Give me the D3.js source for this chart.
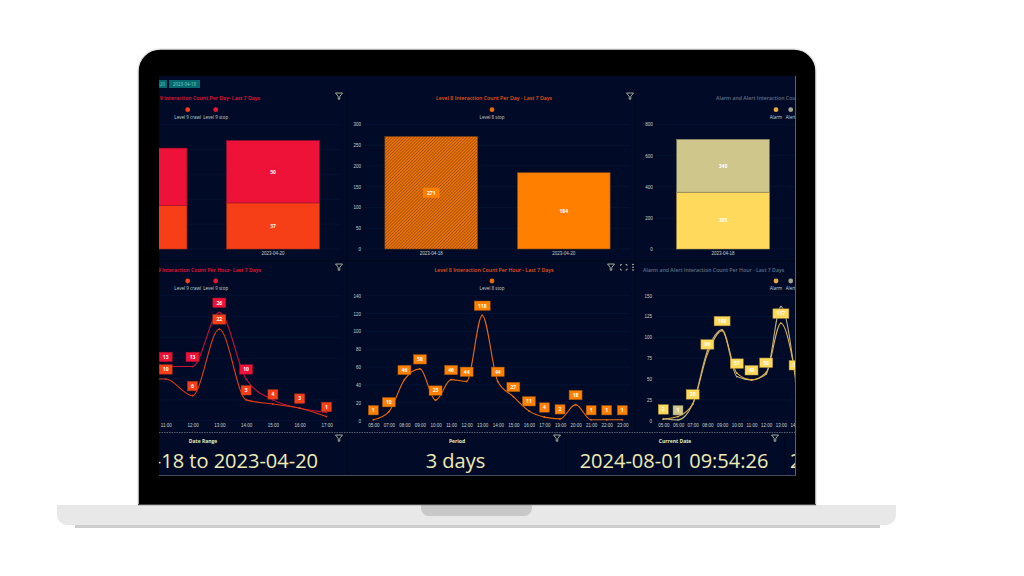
<!DOCTYPE html>
<html>
<head>
<meta charset="utf-8">
<script src="https://cdn.jsdelivr.net/npm/d3@7"></script>
<style>
html, body { margin: 0; padding: 0; background: #fff; }
svg { display: block; font-family: "Open Sans", sans-serif; }
</style>
</head>
<body>
<svg width="1024" height="576"></svg>
<script>
'use strict';

// per day bars
var dayDates = ['2023-04-18', '2023-04-20'];
var level9Crawl = [35, 37];
var level9Stop = [46, 50];
var level8Dates = ['2023-04-18', '2023-04-20'];
var level8Stop = [271, 184];
var alarmDates = ['2023-04-18'];
var alarmDay = [365];
var alertDay = [340];

// per hour lines
var level9Hours = ['10:00', '11:00', '12:00', '13:00', '14:00', '15:00', '16:00', '17:00'];
var level9CrawlHour = [10, 10, 6, 22, 5, 4, 3, 1];
var level9StopHour = [13, 13, 13, 26, 10, 5, 3, 2];
var level9StopLabelled = ['11:00', '12:00', '13:00', '14:00'];
var level8Hours = ['05:00', '07:00', '08:00', '09:00', '10:00', '11:00', '12:00', '13:00', '14:00', '15:00', '16:00', '17:00', '19:00', '20:00', '21:00', '22:00', '23:00'];
var level8StopHour = [1, 10, 46, 58, 23, 46, 44, 118, 44, 27, 11, 4, 2, 18, 1, 1, 1];
var alarmHours = ['05:00', '06:00', '07:00', '08:00', '09:00', '10:00', '11:00', '12:00', '13:00', '14:00'];
var alarmHour = [2, 5, 20, 80, 108, 57, 49, 58, 117, 55];
var alertHour = [2, 1, 20, 84, 109, 53, 49, 56, 137, 48];
var alarmLabelled = ['05:00', '07:00', '08:00', '09:00', '10:00', '11:00', '12:00', '13:00', '14:00'];
var alertLabelled = ['06:00'];

var ticks9Day = [0, 20, 40, 60, 80, 100];
var ticks8Day = [0, 50, 100, 150, 200, 250, 300];
var ticksAlarmDay = [0, 200, 400, 600, 800];
var ticks9Hour = [0, 5, 10, 15, 20, 25, 30];
var ticks8Hour = [0, 20, 40, 60, 80, 100, 120, 140];
var ticksAlarmHour = [0, 25, 50, 75, 100, 125, 150];

var BG = '#010b27';
var GRID = '#07183a';
var TICK = '#c9d1cb';
var RED = '#ee1238';
var RED_ORANGE = '#f73f17';
var ORANGE = '#ff8000';
var YELLOW = '#ffd95c';
var KHAKI = '#cfc68c';

var svg = d3.select('svg');
var defs = svg.append('defs');

defs.append('clipPath').attr('id', 'screen')
    .append('rect').attr('x', 159).attr('y', 76).attr('width', 636).attr('height', 399);

var hatch = defs.append('pattern').attr('id', 'hatch')
    .attr('width', 2.2).attr('height', 2.2)
    .attr('patternUnits', 'userSpaceOnUse')
    .attr('patternTransform', 'rotate(45)');
hatch.append('rect').attr('width', 2.2).attr('height', 2.2).attr('fill', '#ea7406');
hatch.append('rect').attr('width', 0.65).attr('height', 2.2).attr('fill', '#94430f');

// laptop
svg.append('path')
    .attr('d', 'M57,505H896V515a10,10 0 0 1 -10,10H67a10,10 0 0 1 -10,-10Z')
    .attr('fill', '#e8e8e8');
svg.append('rect').attr('x', 75).attr('y', 525).attr('width', 805).attr('height', 3).attr('fill', '#cccccc');
svg.append('path')
    .attr('d', 'M138,505V71a22,22 0 0 1 22,-22H794a22,22 0 0 1 22,22V505Z')
    .attr('fill', '#000').attr('stroke', '#e8e8e8').attr('stroke-width', 1.5);
svg.append('path')
    .attr('d', 'M421,505H532V508a8,8 0 0 1 -8,8H429a8,8 0 0 1 -8,-8Z')
    .attr('fill', '#c8c8c8');
svg.append('rect').attr('x', 138).attr('y', 504).attr('width', 678).attr('height', 1.2).attr('fill', '#444');

// screen
svg.append('rect').attr('x', 159).attr('y', 76).attr('width', 637).attr('height', 399.8).attr('fill', '#5a6072');
var screen = svg.append('g').attr('clip-path', 'url(#screen)');
screen.append('rect').attr('x', 159).attr('y', 76).attr('width', 636).attr('height', 399).attr('fill', BG);

// date chips
[{ x: 140, w: 27, t: '2023-04-20' }, { x: 169, w: 31, t: '2023-04-18' }].forEach(function(c) {
    screen.append('rect').attr('x', c.x).attr('y', 80).attr('width', c.w).attr('height', 8).attr('fill', '#07686f');
    screen.append('text').attr('x', c.x + c.w / 2).attr('y', 85.8).attr('text-anchor', 'middle')
        .attr('font-size', 4.4).attr('fill', '#6fd0c8').text(c.t);
});

// separators
[[347, 90, 347, 432], [635, 90, 635, 432], [347, 432, 347, 475], [566, 432, 566, 475], [785, 432, 785, 475], [159, 261, 795, 261]].forEach(function(s) {
    screen.append('line').attr('x1', s[0]).attr('y1', s[1]).attr('x2', s[2]).attr('y2', s[3])
        .attr('stroke', '#00061a').attr('stroke-width', 1);
});
screen.append('line').attr('x1', 159).attr('y1', 432.5).attr('x2', 795).attr('y2', 432.5)
    .attr('stroke', '#aab0b8').attr('stroke-width', 0.5).attr('stroke-dasharray', '1.5,1');

function funnel(x, y) {
    screen.append('path')
        .attr('transform', 'translate(' + x + ',' + y + ')')
        .attr('d', 'M-3.5,-3H3.5L0.8,0.4V3.2H-0.8V0.4Z')
        .attr('fill', 'none').attr('stroke', '#c8cfb0').attr('stroke-width', 0.8);
}

function title(x, y, anchor, color, text) {
    screen.append('text').attr('x', x).attr('y', y).attr('text-anchor', anchor)
        .attr('font-size', 5.2).attr('font-weight', 600).attr('fill', color).text(text);
}

function legend(items, y) {
    items.forEach(function(d) {
        screen.append('circle').attr('cx', d.x).attr('cy', y).attr('r', 2.4).attr('fill', d.color);
        screen.append('text').attr('x', d.x).attr('y', y + 9).attr('text-anchor', 'middle')
            .attr('font-size', 4.5).attr('font-weight', 500).attr('fill', '#c9d6d2').text(d.name);
    });
}

function chip(g, x, y, value, color, border) {
    var text = String(value);
    var w = 7 + 3 * text.length;
    g.append('rect').attr('x', x - w / 2).attr('y', y - 4.75).attr('width', w).attr('height', 9.5)
        .attr('fill', color).attr('stroke', border).attr('stroke-width', 0.5);
    g.append('text').attr('x', x).attr('y', y + 1.8).attr('text-anchor', 'middle')
        .attr('font-size', 5).attr('font-weight', 700).attr('fill', '#fff').text(text);
}

// grid from the visible left edge, tick labels only where the axis is on screen
function yAxis(p, y, ticks) {
    if (p.origin >= 159) {
        var g = screen.append('g').attr('transform', 'translate(' + p.origin + ',0)')
            .call(d3.axisLeft(y).tickValues(ticks).tickSize(0).tickPadding(4));
        g.select('.domain').remove();
        g.selectAll('text').attr('font-size', 4.5).attr('font-weight', 500).attr('font-family', 'inherit').attr('fill', TICK);
    }
    screen.append('g').selectAll('line').data(ticks).enter().append('line')
        .attr('x1', Math.max(p.origin, 159)).attr('x2', p.right)
        .attr('y1', function(d) { return y(d); })
        .attr('y2', function(d) { return y(d); })
        .attr('stroke', GRID).attr('stroke-width', 0.6);
}

function xAxis(x, bottom, labelOffset) {
    var g = screen.append('g').attr('transform', 'translate(0,' + bottom + ')')
        .call(d3.axisBottom(x).tickSize(0).tickPadding(labelOffset));
    g.select('.domain').remove();
    g.selectAll('text').attr('font-size', 4.5).attr('font-weight', 500).attr('font-family', 'inherit').attr('fill', TICK);
}

// stacked (or single) bars
function barPanel(p) {
    var y = d3.scaleLinear().domain([0, p.max]).range([249, 124.5]);
    var x = d3.scaleBand().domain(p.dates).range([p.origin, p.origin + p.step * p.dates.length]).paddingInner(0.3).paddingOuter(0.15);
    yAxis(p, y, p.ticks);
    xAxis(x, 249, 3);

    var stack = d3.stack().keys(d3.range(p.series.length)).value(function(d, k) { return p.series[k].values[d]; });
    var layers = stack(d3.range(p.dates.length));
    layers.forEach(function(layer, k) {
        var s = p.series[k];
        var g = screen.append('g');
        g.selectAll('rect').data(layer).enter().append('rect')
            .attr('x', function(d) { return x(p.dates[d.data]); })
            .attr('width', x.bandwidth())
            .attr('y', function(d) { return y(d[1]); })
            .attr('height', function(d) { return y(d[0]) - y(d[1]); })
            .attr('fill', function(d) { return s.fills ? s.fills[d.data] : s.color; })
            .attr('stroke', s.border).attr('stroke-width', 0.6);
        layer.forEach(function(d) {
            var cx = x(p.dates[d.data]) + x.bandwidth() / 2;
            var cy = (y(d[0]) + y(d[1])) / 2;
            chip(g, cx, cy, s.values[d.data], s.color, s.color);
        });
    });
}

// smoothed hourly lines
function linePanel(p) {
    var y = d3.scaleLinear().domain([0, p.max]).range([420.7, 295.7]);
    var x = d3.scalePoint().domain(p.hours).range([p.first, p.first + p.spacing * (p.hours.length - 1)]);
    yAxis(p, y, p.ticks);
    xAxis(x, 420.7, 3.5);

    var line = d3.line()
        .x(function(d, i) { return x(p.hours[i]); })
        .y(function(d) { return y(d); })
        .curve(d3.curveMonotoneX);

    p.series.forEach(function(s) {
        screen.append('path').attr('d', line(s.values))
            .attr('fill', 'none').attr('stroke', s.line).attr('stroke-width', 1.1);
        screen.append('g').selectAll('circle').data(s.values).enter().append('circle')
            .attr('cx', function(d, i) { return x(p.hours[i]); })
            .attr('cy', function(d) { return y(d); })
            .attr('r', 0.9).attr('fill', s.line);
    });
    p.series.forEach(function(s) {
        var g = screen.append('g');
        s.values.forEach(function(d, i) {
            if (s.labelled.indexOf(p.hours[i]) < 0) return;
            chip(g, x(p.hours[i]), y(d) - 9.6, d, s.color, s.border);
        });
    });
}

barPanel({
    origin: 74.3, right: 340, max: 100, ticks: ticks9Day, dates: dayDates, step: 132.5,
    series: [
        { values: level9Crawl, color: RED_ORANGE, border: '#a8301c' },
        { values: level9Stop, color: RED, border: '#a8122f' }
    ]
});
barPanel({
    origin: 365, right: 630, max: 300, ticks: ticks8Day, dates: level8Dates, step: 132.5,
    series: [
        { values: level8Stop, color: ORANGE, border: '#7a4212', fills: ['url(#hatch)', ORANGE] }
    ]
});
barPanel({
    origin: 656.8, right: 795, max: 800, ticks: ticksAlarmDay, dates: alarmDates, step: 132.5,
    series: [
        { values: alarmDay, color: YELLOW, border: '#b09a48' },
        { values: alertDay, color: KHAKI, border: '#7f7c60' }
    ]
});

linePanel({
    origin: 75, right: 340, max: 30, ticks: ticks9Hour, hours: level9Hours, first: 138.9, spacing: 26.8,
    series: [
        { values: level9StopHour, line: '#c4123a', color: RED, border: '#9c1230', labelled: level9StopLabelled },
        { values: level9CrawlHour, line: '#e03c14', color: RED_ORANGE, border: '#a8301c', labelled: level9Hours.slice(1) }
    ]
});
linePanel({
    origin: 365, right: 630, max: 140, ticks: ticks8Hour, hours: level8Hours, first: 373.3, spacing: 15.56,
    series: [
        { values: level8StopHour, line: '#e8690b', color: ORANGE, border: '#8a4a12', labelled: level8Hours }
    ]
});
linePanel({
    origin: 656, right: 795, max: 150, ticks: ticksAlarmHour, hours: alarmHours, first: 663.3, spacing: 14.7,
    series: [
        { values: alertHour, line: '#b5b08a', color: KHAKI, border: '#7f7c60', labelled: alertLabelled },
        { values: alarmHour, line: '#e6b23f', color: YELLOW, border: '#a88d3a', labelled: alarmLabelled }
    ]
});

title(260, 100, 'end', RED, 'Level 9 Interaction Count Per Day- Last 7 Days');
title(494, 100, 'middle', '#e5541a', 'Level 8 Interaction Count Per Day - Last 7 Days');
title(716, 100, 'start', '#5f6f84', 'Alarm and Alert Interaction Count Per Day - Last 7 Days');
title(261, 271.5, 'end', RED, 'Level 9 Interaction Count Per Hour- Last 7 Days');
title(494, 271.5, 'middle', '#e5541a', 'Level 8 Interaction Count Per Hour - Last 7 Days');
title(643, 271.5, 'start', '#5f6f84', 'Alarm and Alert Interaction Count Per Hour - Last 7 Days');

legend([{ x: 187.7, color: RED_ORANGE, name: 'Level 9 crawl' }, { x: 215.7, color: RED, name: 'Level 9 stop' }], 109.7);
legend([{ x: 492, color: '#e8690b', name: 'Level 8 stop' }], 109.7);
legend([{ x: 776, color: '#e8a93f', name: 'Alarm' }, { x: 790.7, color: '#a6a68c', name: 'Alert' }], 109.7);
legend([{ x: 187.7, color: RED_ORANGE, name: 'Level 9 crawl' }, { x: 215.7, color: RED, name: 'Level 9 stop' }], 281);
legend([{ x: 492, color: '#e8690b', name: 'Level 8 stop' }], 281);
legend([{ x: 776, color: '#e8a93f', name: 'Alarm' }, { x: 790.7, color: '#a6a68c', name: 'Alert' }], 281);

[[339, 96], [630, 96], [339, 267], [611, 267], [339, 438], [557, 438], [775, 438]].forEach(function(f) {
    funnel(f[0], f[1]);
});

// expand and menu icons
screen.append('path').attr('d', 'M620.5,266V264.5H622M625.5,264.5H627V266M627,268.5V270H625.5M622,270H620.5V268.5')
    .attr('fill', 'none').attr('stroke', '#c8cfb0').attr('stroke-width', 0.7);
[264.5, 267.2, 270].forEach(function(cy) {
    screen.append('circle').attr('cx', 633).attr('cy', cy).attr('r', 0.8).attr('fill', '#c8cfb0');
});

// summary cards
[
    { x: 203, head: 'Date Range', big: '2023-04-18 to 2023-04-20', bigX: 318, anchor: 'end' },
    { x: 457, head: 'Period', big: '3 days', bigX: 455.5, anchor: 'middle' },
    { x: 675, head: 'Current Date', big: '2024-08-01 09:54:26', bigX: 674, anchor: 'middle' },
    { x: 900, head: '', big: '2', bigX: 790, anchor: 'start' }
].forEach(function(c) {
    screen.append('text').attr('x', c.x).attr('y', 443).attr('text-anchor', 'middle')
        .attr('font-size', 5).attr('font-weight', 700).attr('fill', '#eceab8').text(c.head);
    screen.append('text').attr('x', c.bigX).attr('y', 468).attr('text-anchor', c.anchor)
        .attr('font-size', 20).attr('font-weight', 500).attr('fill', '#f0ecb4').text(c.big);
});
</script>
</body>
</html>
